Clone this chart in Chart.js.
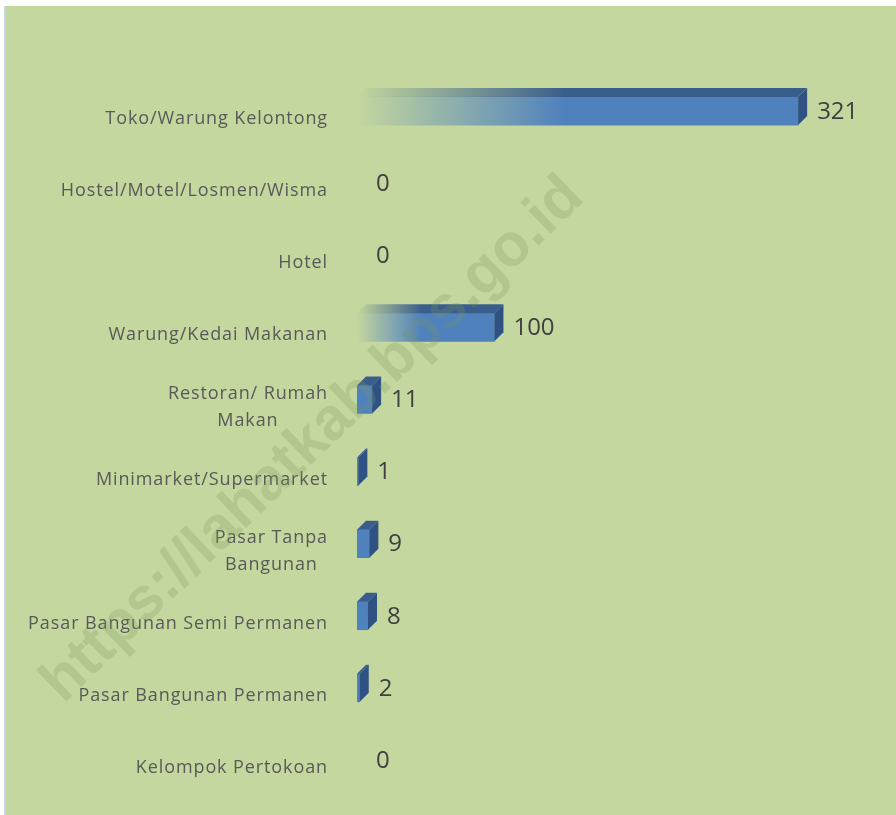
<!DOCTYPE html>
<html>
<head>
<meta charset="utf-8">
<script src="https://cdn.jsdelivr.net/npm/chart.js@4/dist/chart.umd.min.js"></script>
<style>
  html, body { margin: 0; padding: 0; background: #ffffff; }
  #chart { display: block; }
</style>
</head>
<body>
<canvas id="chart" width="896" height="815"></canvas>
<script>
// data
const categories = [
  "Toko/Warung Kelontong",
  "Hostel/Motel/Losmen/Wisma",
  "Hotel",
  "Warung/Kedai Makanan",
  ["Restoran/ Rumah", "Makan"],
  "Minimarket/Supermarket",
  ["Pasar Tanpa", "Bangunan"],
  "Pasar Bangunan Semi Permanen",
  "Pasar Bangunan Permanen",
  "Kelompok Pertokoan"
];
const values = [321, 0, 0, 100, 11, 1, 9, 8, 2, 0];
const watermark = "https://lahatkab.bps.go.id";

const DEPTH = 9;

function fadeGradient(ctx, x0, x1, rgb) {
  const g = ctx.createLinearGradient(x0, 0, x1, 0);
  g.addColorStop(0, "rgba(" + rgb + ",0)");
  g.addColorStop(0.47, "rgba(" + rgb + ",1)");
  g.addColorStop(1, "rgba(" + rgb + ",1)");
  return g;
}

function frontColor(context) {
  const chart = context.chart;
  const xScale = chart.scales.x;
  if (context.parsed && context.parsed.x === 0) return "rgba(0,0,0,0)";
  if (!chart.chartArea || !xScale || context.parsed === undefined) return "#4f81bd";
  const x0 = xScale.getPixelForValue(0);
  const x1 = xScale.getPixelForValue(context.parsed.x);
  if (x1 - x0 < 40) return "#4f81bd";
  return fadeGradient(chart.ctx, x0, x1, "79,129,189");
}

const decor = {
  id: "decor",
  beforeDraw(chart) {
    const ctx = chart.ctx;
    ctx.save();
    ctx.fillStyle = "#ffffff";
    ctx.fillRect(0, 0, chart.width, chart.height);
    ctx.fillStyle = "#c5d5e6";
    ctx.fillRect(4, 6, 2, chart.height - 6);
    ctx.fillStyle = "#c4d79e";
    ctx.fillRect(6, 6, chart.width - 6, chart.height - 6);
    ctx.restore();
  },
  afterDatasetsDraw(chart) {
    const ctx = chart.ctx;
    const meta = chart.getDatasetMeta(0);
    ctx.save();
    meta.data.forEach((bar, i) => {
      if (!values[i]) return;
      const x0 = bar.base, x1 = bar.x;
      const top = bar.y - bar.height / 2, bottom = bar.y + bar.height / 2;
      // top face
      ctx.beginPath();
      ctx.moveTo(x0, top);
      ctx.lineTo(x1, top);
      ctx.lineTo(x1 + DEPTH, top - DEPTH);
      ctx.lineTo(x0 + DEPTH, top - DEPTH);
      ctx.closePath();
      ctx.fillStyle = (x1 - x0 > 40) ? fadeGradient(ctx, x0, x1, "58,94,140") : "#3a5e8c";
      ctx.fill();
      // side face
      ctx.beginPath();
      ctx.moveTo(x1, top);
      ctx.lineTo(x1 + DEPTH, top - DEPTH);
      ctx.lineTo(x1 + DEPTH, bottom - DEPTH);
      ctx.lineTo(x1, bottom);
      ctx.closePath();
      ctx.fillStyle = "#2f5283";
      ctx.fill();
    });
    // value labels
    ctx.fillStyle = "#404040";
    ctx.font = "24px 'Open Sans'";
    ctx.textAlign = "left";
    ctx.textBaseline = "middle";
    meta.data.forEach((bar, i) => {
      ctx.fillText(String(values[i]), bar.x + DEPTH + 10, bar.y + 1);
    });
    // category labels
    const yScale = chart.scales.y;
    ctx.fillStyle = "#595959";
    ctx.font = "18px 'Open Sans'";
    ctx.letterSpacing = "0.9px";
    ctx.textAlign = "center";
    const right = 328, lineH = 27;
    categories.forEach((label, i) => {
      const lines = Array.isArray(label) ? label : [label];
      const w = Math.max(...lines.map(l => ctx.measureText(l).width));
      const cx = right - w / 2;
      const cy = yScale.getPixelForTick(i) + 8;
      lines.forEach((l, k) => {
        ctx.fillText(l, cx, cy + (k - (lines.length - 1) / 2) * lineH);
      });
    });
    ctx.restore();
  },
  afterDraw(chart) {
    const ctx = chart.ctx;
    ctx.save();
    ctx.translate(313, 440);
    ctx.rotate(-44 * Math.PI / 180);
    ctx.font = "bold 60px 'Liberation Sans'";
    ctx.fillStyle = "rgba(120,150,90,0.25)";
    ctx.textAlign = "center";
    ctx.textBaseline = "middle";
    ctx.fillText(watermark, 0, 0);
    ctx.restore();
  }
};

new Chart(document.getElementById("chart"), {
  type: "bar",
  data: {
    labels: categories,
    datasets: [{
      data: values,
      backgroundColor: frontColor,
      borderWidth: 0,
      barThickness: 28
    }]
  },
  options: {
    indexAxis: "y",
    responsive: false,
    devicePixelRatio: 1,
    animation: false,
    layout: { padding: { left: 357, right: 58, top: 75, bottom: 19 } },
    plugins: { legend: { display: false }, tooltip: { enabled: false } },
    scales: {
      x: { display: false, min: 0, max: 350 },
      y: { display: false }
    }
  },
  plugins: [decor]
});
</script>
</body>
</html>
